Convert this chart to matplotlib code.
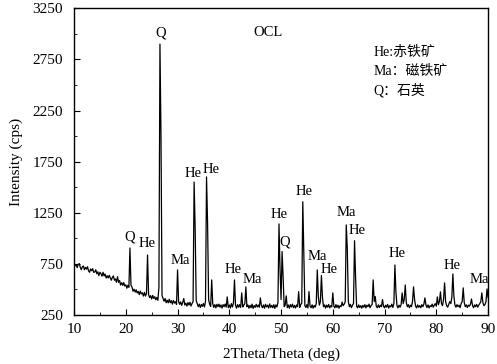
import numpy as np
import matplotlib.pyplot as plt
from matplotlib.ticker import MultipleLocator

plt.rcParams['font.family'] = ['Liberation Serif', 'Noto Sans CJK SC']

# 2theta grid, 0.2 deg step
two_theta = np.linspace(10, 90, 401)

# intensity (cps), one row per 4 deg
intensity = [
    763, 731, 743, 712, 743, 752, 716, 692, 720, 728, 692, 714, 698, 721, 681, 667, 699, 682, 702, 666,
    670, 691, 652, 671, 634, 667, 653, 629, 667, 631, 650, 611, 633, 611, 637, 612, 589, 617, 631, 589,
    602, 569, 624, 568, 586, 542, 565, 539, 566, 532, 545, 511, 539, 520, 905, 540, 522, 481, 501, 473,
    495, 464, 480, 448, 482, 455, 466, 434, 470, 434, 460, 836, 449, 419, 438, 405, 440, 411, 428, 398,
    420, 392, 520, 2900, 2000, 440, 410, 384, 410, 369, 393, 368, 403, 369, 389, 355, 391, 366, 379, 352,
    690, 380, 353, 377, 343, 372, 410, 346, 365, 336, 370, 346, 373, 337, 361, 380, 1550, 1100, 390, 359,
    330, 355, 322, 352, 333, 361, 327, 382, 1600, 1150, 400, 355, 332, 592, 359, 324, 350, 318, 353, 330,
    355, 325, 347, 316, 350, 330, 356, 326, 426, 320, 347, 317, 360, 327, 365, 592, 345, 315, 350, 325,
    350, 323, 465, 327, 345, 360, 524, 330, 347, 315, 343, 320, 355, 313, 341, 323, 353, 327, 347, 325,
    416, 340, 320, 347, 315, 353, 327, 345, 317, 357, 323, 343, 320, 350, 313, 347, 327, 370, 1140, 700,
    400, 870, 620, 330, 345, 436, 320, 347, 315, 350, 327, 355, 320, 343, 317, 347, 330, 478, 323, 350,
    365, 1357, 860, 340, 322, 350, 318, 478, 335, 320, 348, 315, 342, 325, 360, 690, 430, 345, 380, 635,
    420, 330, 348, 316, 345, 325, 352, 318, 340, 328, 465, 335, 318, 350, 322, 345, 315, 340, 330, 375,
    340, 355, 380, 1130, 900, 380, 330, 352, 320, 345, 360, 976, 620, 335, 318, 348, 322, 340, 315, 343,
    325, 350, 318, 345, 330, 355, 320, 342, 350, 592, 380, 430, 335, 320, 348, 322, 345, 330, 400, 335,
    318, 345, 325, 352, 316, 340, 328, 355, 322, 360, 738, 470, 340, 318, 345, 325, 350, 465, 360, 400,
    543, 370, 330, 350, 320, 345, 330, 380, 524, 400, 335, 318, 347, 325, 340, 320, 350, 330, 355, 416,
    345, 322, 348, 318, 340, 330, 355, 325, 345, 360, 335, 426, 350, 380, 475, 360, 340, 400, 563, 380,
    340, 325, 352, 380, 360, 420, 650, 430, 345, 325, 350, 330, 345, 320, 360, 380, 514, 370, 330, 348,
    322, 345, 335, 355, 406, 340, 320, 348, 330, 352, 325, 345, 360, 380, 465, 370, 340, 350, 380, 504,
    420,
]

# phase labels above the peaks
peak_names = ["Q", "He", "Q", "He", "He", "Ma", "He", "Ma", "He", "Q",
              "He", "Ma", "He", "Ma", "He", "He", "He", "Ma"]
peak_label_x = [20.84, 24.07, 26.65, 33.09, 36.46, 30.52, 40.68, 44.4, 49.55, 50.71,
                54.52, 56.98, 59.23, 62.6, 64.72, 72.33, 83.11, 88.26]
peak_label_y = [1009, 950, 3005, 1637, 1673, 780, 697, 599, 1234, 959,
                1461, 826, 697, 1250, 1080, 853, 738, 599]

legend_lines = ["He:赤铁矿", "Ma：磁铁矿", "Q：石英"]

fig = plt.figure(figsize=(4.97, 3.64), dpi=100)
ax = fig.add_axes([0.149, 0.135, 0.833, 0.842])
ax.plot(two_theta, intensity, color="black", lw=0.9)

ax.set_xlim(10, 90)
ax.set_ylim(250, 3250)
ax.set_xticks(np.arange(10, 91, 10))
ax.set_yticks(np.arange(250, 3251, 500))
ax.xaxis.set_minor_locator(MultipleLocator(5))
ax.yaxis.set_minor_locator(MultipleLocator(250))
ax.tick_params(which="both", direction="in", top=False, right=False, labelsize=11)
ax.tick_params(which="major", length=4)
ax.tick_params(which="minor", length=2.5)
ax.tick_params(axis="x", which="major", pad=6)
ax.tick_params(axis="y", which="major", pad=8)
for s in ax.spines.values():
    s.set_linewidth(1.0)

ax.set_xlabel("2Theta/Theta (deg)", fontsize=11, labelpad=8)
ax.set_ylabel("Intensity (cps)", fontsize=11, labelpad=7)

for name, px, py in zip(peak_names, peak_label_x, peak_label_y):
    ax.text(px, py, name, ha="center", va="center", fontsize=10.5)

ax.text(44.65, 3015, "OCL", ha="left", va="center", fontsize=10.5)
for i, line in enumerate(legend_lines):
    ax.text(67.9, 2822 - i * 187, line, ha="left", va="center", fontsize=10)

fig.savefig("out.png", dpi=100)
